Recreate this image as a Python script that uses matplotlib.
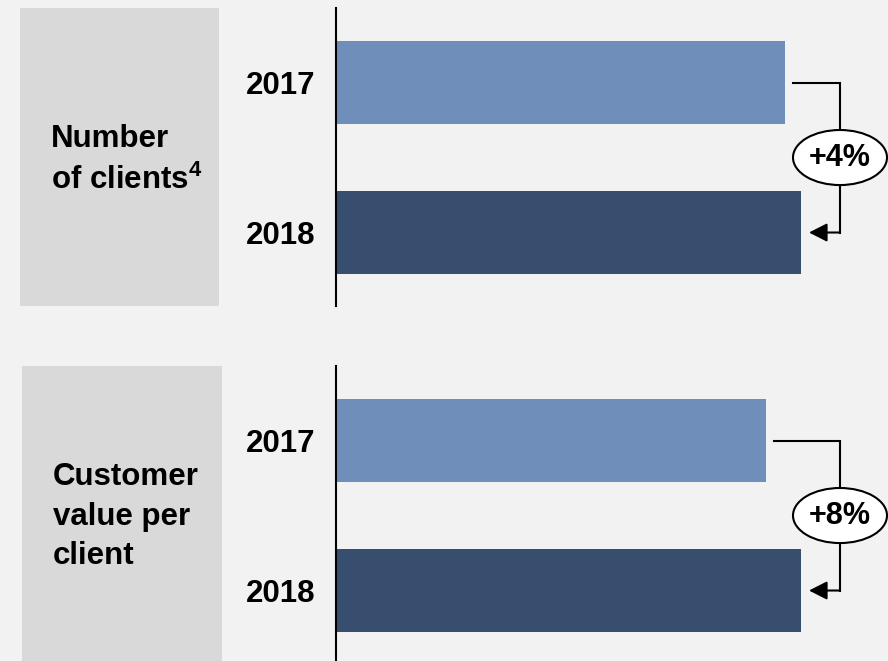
import matplotlib.pyplot as plt
from matplotlib.patches import Rectangle, Ellipse

plt.rcParams['font.family'] = ['Liberation Sans', 'DejaVu Sans']
plt.rcParams['mathtext.fontset'] = 'custom'
plt.rcParams['mathtext.rm'] = 'Liberation Sans:bold'
plt.rcParams['mathtext.bf'] = 'Liberation Sans:bold'

# Indexed values (2018 = 100)
metrics = ["Number\nof clients$^{\\mathbf{4}}$", "Customer\nvalue per\nclient"]
years = ["2017", "2018"]
values_2017 = [96.5, 92.5]
values_2018 = [100, 100]

bar_colors = ["#6f8fba", "#384e6f"]
bg_color = "#f2f2f2"
box_color = "#d9d9d9"

W, H = 888, 661
fig = plt.figure(figsize=(W / 100, H / 100), dpi=100, facecolor=bg_color)


def fx(px):
    return px / W


def fy(py):
    return 1 - py / H


# panel geometry in pixels: (box_left, box_right, top, bottom, text_x, ylim)
panels = [
    (20, 219, 8, 306, 51, (1.49, -0.497)),
    (22, 222, 366, 661, 53, (1.47, -0.497)),
]

ax_left, ax_right = 336, 888
px_per_unit = 4.65
gap = 8 / px_per_unit
bracket_x = (840 - ax_left) / px_per_unit

for i, (bl, br, top, bottom, tx, ylim) in enumerate(panels):
    # grey label box
    fig.patches.append(Rectangle((fx(bl), fy(bottom)), fx(br - bl), (bottom - top) / H,
                                 transform=fig.transFigure, facecolor=box_color,
                                 edgecolor='none', zorder=0))
    fig.text(fx(tx), fy((top + bottom) / 2 + 3), metrics[i], ha='left', va='center',
             fontsize=22.5, fontweight='bold', linespacing=1.4)

    ax = fig.add_axes([fx(ax_left), fy(bottom), fx(ax_right - ax_left), (bottom - top) / H])
    ax.set_facecolor('none')
    v17, v18 = values_2017[i], values_2018[i]
    ax.barh([0, 1], [v17, v18], height=0.553, color=bar_colors)
    ax.set_xlim(0, (ax_right - ax_left) / px_per_unit)
    ax.set_ylim(*ylim)
    ax.set_yticks([0, 1], years)
    ax.tick_params(axis='y', length=0, pad=14.5, labelsize=22.5)
    for lab in ax.get_yticklabels():
        lab.set_fontweight('bold')
    ax.set_xticks([])
    for s in ['top', 'right', 'bottom']:
        ax.spines[s].set_visible(False)
    ax.spines['left'].set_linewidth(1.5)
    ax.spines['left'].set_color('black')

    # growth bracket
    ax.plot([v17 + gap, bracket_x, bracket_x], [0, 0, 1], color='black', lw=1.5,
            clip_on=False, solid_joinstyle='miter')
    ax.annotate('', xy=(v18 + gap, 1), xytext=(bracket_x, 1),
                arrowprops=dict(arrowstyle='-|>,head_length=0.55,head_width=0.28',
                                mutation_scale=20, color='black', lw=1.5,
                                shrinkA=0, shrinkB=0),
                annotation_clip=False)
    ax.add_patch(Ellipse((bracket_x, 0.5), 94 / px_per_unit, 0.367, facecolor='white',
                         edgecolor='black', lw=1.5, clip_on=False, zorder=3))
    growth = round((v18 / v17 - 1) * 100)
    ax.text(bracket_x, 0.5, f"+{growth}%", ha='center', va='center', fontsize=22,
            fontweight='bold', zorder=4)

fig.savefig('out.png', dpi=100, facecolor=bg_color)
